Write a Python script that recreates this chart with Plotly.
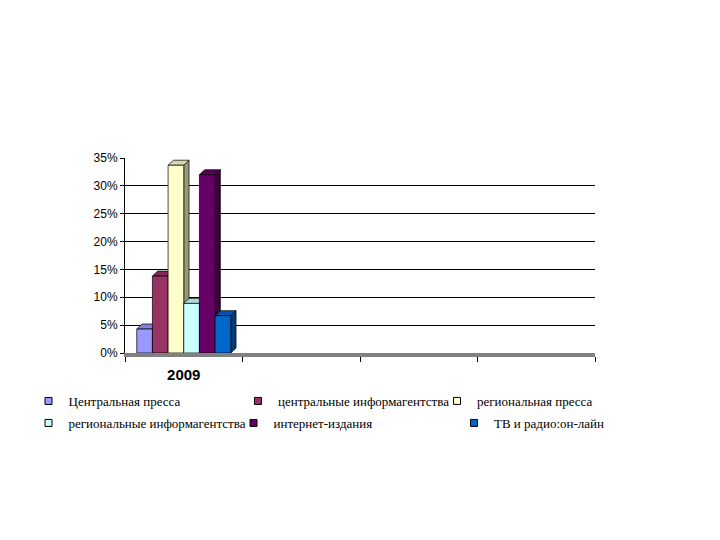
import plotly.graph_objects as go

categories = ["2009"]
series_names = [
    "Центральная пресса",
    "центральные информагентства",
    "региональная пресса",
    "региональные информагентства",
    "интернет-издания",
    "ТВ и радио:он-лайн",
]
values_2009 = [0.043, 0.138, 0.337, 0.089, 0.320, 0.067]
colors = ["#9999FF", "#993366", "#FFFFCC", "#CCFFFF", "#660066", "#0066CC"]
y_ticks = [0, 0.05, 0.10, 0.15, 0.20, 0.25, 0.30, 0.35]
grid_vals = [0.05, 0.10, 0.15, 0.20, 0.25, 0.30]


def shade(hex_color, f):
    h = hex_color.lstrip("#")
    r, g, b = (int(h[i:i + 2], 16) for i in (0, 2, 4))
    return "rgb(%d,%d,%d)" % (int(r * f), int(g * f), int(b * f))


W, H = 720, 540
ML, MR, MT, MB = 117, 133, 150, 195
PW, PH = W - ML - MR, H - MT - MB

fig = go.Figure()

n = len(series_names)
group = 0.8
w = group / n
dx = 0.045   # depth offset in x data units
dy = 0.009   # depth offset in y data units

for i, (name, v, c) in enumerate(zip(series_names, values_2009, colors)):
    xc = 0 - group / 2 + w * (i + 0.5)
    xl, xr = xc - w / 2, xc + w / 2
    line = dict(color="black", width=0.7)
    fig.add_trace(go.Scatter(
        x=[xr, xr + dx, xr + dx, xr, xr], y=[0, dy, v + dy, v, 0],
        mode="lines", fill="toself", fillcolor=shade(c, 0.6), line=line,
        showlegend=False, hoverinfo="skip"))
    fig.add_trace(go.Scatter(
        x=[xl, xr, xr + dx, xl + dx, xl], y=[v, v, v + dy, v + dy, v],
        mode="lines", fill="toself", fillcolor=shade(c, 0.85), line=line,
        showlegend=False, hoverinfo="skip"))
    fig.add_trace(go.Scatter(
        x=[xl, xr, xr, xl, xl], y=[0, 0, v, v, 0],
        mode="lines", fill="toself", fillcolor=c, line=line,
        showlegend=False, hoverinfo="skip"))

# legend layout: one small legend per entry (page pixel symbol centre / top)
legend_symbol_px = [48.5, 258, 457, 48.5, 253.5, 474]
legend_top_px = [386, 386, 386, 408, 408, 408]

legend_layouts = {}
for i, (name, c) in enumerate(zip(series_names, colors)):
    key = "legend" if i == 0 else "legend%d" % (i + 1)
    fig.add_trace(go.Scatter(x=[None], y=[None], name=name, mode="markers",
                             legend=key,
                             marker=dict(symbol="square", size=7, color=c,
                                         line=dict(color="black", width=1))))
    legend_layouts[key] = dict(
        x=(legend_symbol_px[i] - 20 - 8 - ML) / PW,
        y=1 - (legend_top_px[i] - 8 - MT) / PH,
        xanchor="left", yanchor="top", orientation="v",
        font=dict(family="Liberation Serif, Times New Roman, serif", size=13),
        bgcolor="rgba(0,0,0,0)", itemwidth=30)

fig.update_layout(
    width=W, height=H,
    margin=dict(l=ML, r=MR, t=MT, b=MB),
    paper_bgcolor="white", plot_bgcolor="white",
    font=dict(family="Liberation Sans, Arial, sans-serif", color="black"),
    showlegend=True,
    xaxis=dict(range=[-0.5, 3.5], tickmode="array", tickvals=[0], ticktext=categories,
               ticks="", showgrid=False, zeroline=False, ticklabelstandoff=5,
               tickfont=dict(size=15, family="Liberation Sans, Arial, sans-serif", weight="bold"),
               showline=True, linecolor="#808080", linewidth=4,
               minor=dict(tickmode="array", tickvals=[-0.5, 0.5, 1.5, 2.5, 3.5],
                          ticks="outside", ticklen=5, tickcolor="black", showgrid=False)),
    yaxis=dict(range=[0, 0.35], tickmode="array", tickvals=y_ticks, tickformat=".0%",
               showgrid=False, zeroline=False,
               showline=True, linecolor="black", linewidth=1,
               ticks="outside", ticklen=4, tickcolor="black",
               tickfont=dict(size=12),
               minor=dict(tickmode="array", tickvals=grid_vals, ticks="",
                          showgrid=True, gridcolor="black", gridwidth=1)),
    **legend_layouts,
)

fig.write_html("out.html")
